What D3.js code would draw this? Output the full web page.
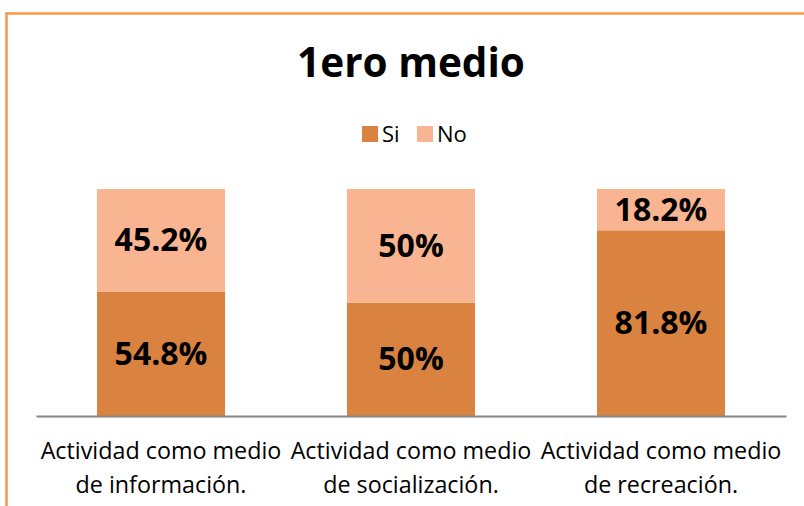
<!DOCTYPE html>
<html>
<head>
<meta charset="utf-8">
<script src="https://cdn.jsdelivr.net/npm/d3@7"></script>
<style>
  body { margin: 0; background: #fff; }
  svg text { font-family: "Open Sans", sans-serif; }
</style>
</head>
<body>
<div id="chart"></div>
<script>
// chart data
var categories = ["Actividad como medio de información.", "Actividad como medio de socialización.", "Actividad como medio de recreación."];
var catLines = [["Actividad como medio", "de información."], ["Actividad como medio", "de socialización."], ["Actividad como medio", "de recreación."]];
var siValues = [54.8, 50, 81.8];
var noValues = [45.2, 50, 18.2];
var seriesNames = ["Si", "No"];
var colors = ["#DA8240", "#F9B591"];

var W = 804, H = 506;
var margin = {top: 189, right: 18, bottom: 90, left: 36},
    width  = W - margin.left - margin.right,
    height = H - margin.top - margin.bottom;

var svg = d3.select("#chart").append("svg")
            .attr("width", W)
            .attr("height", H);

// orange frame (runs off the right / bottom edge)
svg.append("rect")
   .attr("x", 6.5).attr("y", 13.5)
   .attr("width", W + 20).attr("height", H + 20)
   .attr("fill", "none")
   .attr("stroke", "#F79646")
   .attr("stroke-width", 2.5);

// title
svg.append("text")
   .attr("x", 411).attr("y", 77)
   .attr("text-anchor", "middle")
   .style("font-size", "40.5px")
   .style("font-weight", "bold")
   .text("1ero medio");

var g = svg.append("g")
           .attr("transform", "translate(" + margin.left + "," + margin.top + ")");

var x = d3.scaleBand()
          .domain(categories)
          .range([0, width])
          .paddingInner(0.488)
          .paddingOuter(0.244);

var y = d3.scaleLinear()
          .domain([0, 100])
          .range([height, 0]);

// stack the two series
var rows = categories.map(function(c, i) { return {cat: c, Si: siValues[i], No: noValues[i]}; });
var stacked = d3.stack().keys(seriesNames)(rows);

var layer = g.selectAll(".layer")
             .data(stacked)
             .enter().append("g")
             .attr("fill", function(d, i) { return colors[i]; });

layer.selectAll("rect")
     .data(function(d) { return d; })
     .enter().append("rect")
     .attr("x", function(d) { return x(d.data.cat); })
     .attr("width", x.bandwidth())
     .attr("y", function(d) { return y(d[1]); })
     .attr("height", function(d) { return y(d[0]) - y(d[1]); });

// value labels
layer.selectAll("text")
     .data(function(d) { return d.map(function(v) { return {v: v, key: d.key}; }); })
     .enter().append("text")
     .attr("x", function(d) { return x(d.v.data.cat) + x.bandwidth() / 2; })
     .attr("y", function(d) { return (y(d.v[0]) + y(d.v[1])) / 2 + 11; })
     .attr("text-anchor", "middle")
     .attr("fill", "#000")
     .style("font-size", "32px")
     .style("font-weight", "bold")
     .text(function(d) { return d.v.data[d.key] + "%"; });

// x axis
var xAxis = g.append("g")
             .attr("transform", "translate(0," + height + ")")
             .call(d3.axisBottom(x).tickSize(0).tickFormat(""));
xAxis.select(".domain").attr("stroke", "#868686").attr("stroke-width", 2);

// category labels (two lines)
var lab = g.selectAll(".cat")
           .data(categories)
           .enter().append("text")
           .attr("class", "cat")
           .attr("text-anchor", "middle")
           .attr("transform", function(d) { return "translate(" + (x(d) + x.bandwidth() / 2) + "," + (height + 43) + ")"; })
           .style("font-size", "23.3px")
           .attr("fill", "#000");
lab.selectAll("tspan")
   .data(function(d, i) { return catLines[i]; })
   .enter().append("tspan")
   .attr("x", 0)
   .attr("dy", function(d, i) { return i ? 34 : 0; })
   .text(function(d) { return d; });

// legend
var legend = svg.append("g").attr("transform", "translate(362,126)");
var lx = [0, 55];
seriesNames.forEach(function(s, i) {
  legend.append("rect")
        .attr("x", lx[i]).attr("y", 0)
        .attr("width", 16).attr("height", 16)
        .attr("fill", colors[i]);
  legend.append("text")
        .attr("x", lx[i] + 20).attr("y", 16)
        .style("font-size", "22px")
        .text(s);
});
</script>
</body>
</html>
